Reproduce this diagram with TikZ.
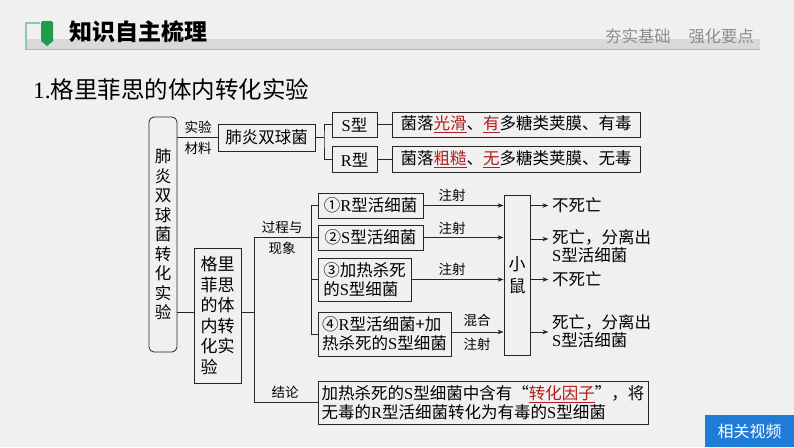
\documentclass[tikz,border=0pt]{standalone}
\usepackage{fontspec}
\setmainfont{Noto Sans CJK SC}
\newfontfamily\lat{Liberation Serif}
\usetikzlibrary{shadows,arrows.meta}
\definecolor{bg}{HTML}{F0F0F0}
\definecolor{dred}{HTML}{B01E1E}
\definecolor{hgreen}{HTML}{1F9D4E}
\definecolor{hline}{HTML}{8CC8A4}
\definecolor{band}{HTML}{D9D9D9}
\definecolor{btn}{HTML}{1E7BD6}
\definecolor{hgray}{HTML}{8C8C8C}
\newcommand{\Sx}{{\lat S}}
\newcommand{\Rx}{{\lat R}}
\newcommand{\rd}[1]{{\color{dred}\underline{#1}}}
\begin{document}
\begin{tikzpicture}[x=1pt,y=-1pt,
  box/.style={draw=black!85, line width=0.8pt, fill=bg, inner sep=0pt,
    drop shadow={shadow xshift=0.9pt, shadow yshift=-0.9pt, fill=black!70, opacity=1}},
  bt/.style={font=\fontsize{16.5}{19}\selectfont},
  lbl/.style={font=\fontsize{13.5}{15}\selectfont, inner sep=0pt},
  conn/.style={line width=0.8pt, draw=black!85},
  arr/.style={conn, -{Stealth[length=6pt,width=4.5pt]}},
  outt/.style={font=\fontsize{16.5}{18}\selectfont, anchor=west, align=left, inner sep=0pt}
]
\useasboundingbox (0,0) rectangle (794,447);
\fill[bg] (0,0) rectangle (794,447);

% header
\fill[band] (26,39) rectangle (760,49);
\draw[hline, line width=1.2pt] (26,49.5) -- (760,49.5);
\draw[hline, line width=1.2pt] (40,23) -- (26,23) -- (26,50);
\fill[hgreen] (41,23) to[out=90,in=180] (43,21) -- (51,21) to[out=0,in=90] (53,23) -- (53,41) -- (47,46) -- (41,41) -- cycle;
\node[anchor=west, inner sep=0pt, font=\fontsize{23}{23}\selectfont\bfseries] (title) at (69,32) {知识自主梳理};
\node[anchor=east, inner sep=0pt, text=hgray, font=\fontsize{16.3}{17}\selectfont] (sub) at (754,36) {夯实基础\hspace{1.1em}强化要点};

\node[anchor=west, inner sep=0pt, font=\fontsize{23.5}{24}\selectfont] (sec) at (33,90) {{\lat 1.}格里菲思的体内转化实验};

% nodes
\node[draw=black!85, line width=0.8pt, rounded corners=5pt, minimum width=28pt, minimum height=235pt, inner sep=0pt, align=center, font=\fontsize{16.5}{19.5}\selectfont] (L) at (163,234.5) {肺\\炎\\双\\球\\菌\\转\\化\\实\\验};
\node[box,bt,minimum width=97pt,minimum height=27pt] (A) at (266.5,137.5) {肺炎双球菌};
\node[box,bt,minimum width=45pt,minimum height=25pt] (S) at (354.5,124.5) {\Sx 型};
\node[box,bt,minimum width=45pt,minimum height=26pt] (R) at (354.5,159.5) {\Rx 型};
\node[box,bt,minimum width=248pt,minimum height=25pt] (SL) at (516,124.5) {菌落\rd{光滑}、\rd{有}多糖类荚膜、有毒};
\node[box,bt,minimum width=248pt,minimum height=26pt] (RL) at (516,159.5) {菌落\rd{粗糙}、\rd{无}多糖类荚膜、无毒};
\node[box,font=\fontsize{17}{20.5}\selectfont,align=left,minimum width=47pt,minimum height=135pt] (G) at (217.5,315.5) {格里\\菲思\\的体\\内转\\化实\\验};
\node[box,bt,minimum width=105pt,minimum height=25pt] (B1) at (370.5,205.5) {①\Rx 型活细菌};
\node[box,bt,minimum width=105pt,minimum height=25pt] (B2) at (370.5,237.5) {②\Sx 型活细菌};
\node[box,bt,align=left,minimum width=93pt,minimum height=43pt] (B3) at (364.5,279.5) {③加热杀死\\的\Sx 型细菌};
\node[box,bt,align=left,minimum width=133pt,minimum height=44pt] (B4) at (384.5,334) {④\Rx 型活细菌+加\\热杀死的\Sx 型细菌};
\node[box,align=center,minimum width=26pt,minimum height=160pt,font=\fontsize{17}{22}\selectfont] (M) at (517,275) {小\\鼠};
\node[box,bt,align=left,minimum width=330pt,minimum height=43pt] (C) at (483,402.5) {加热杀死的\Sx 型细菌中含有“{\color{dred}\underline{转化因子}}”，将\\无毒的\Rx 型活细菌转化为有毒的\Sx 型细菌};

\node[outt] (o1) at (552,205.5) {不死亡};
\node[outt] (o2) at (552,246) {死亡，分离出\\\Sx 型活细菌};
\node[outt] (o3) at (552,279.5) {不死亡};
\node[outt] (o4) at (552,331) {死亡，分离出\\\Sx 型活细菌};

% connectors top
\coordinate (j1) at (324,137.5);
\draw[conn] (L.east |- A.west) -- (A.west);
\node[lbl] (l1) at (198,127) {实验};
\node[lbl] (l2) at (198,148) {材料};
\draw[conn] (A.east) -- (j1);
\draw[conn] (S.west) -| (j1) |- (R.west);
\draw[conn] (S.east) -- (SL.west);
\draw[conn] (R.east) -- (RL.west);

% connectors bottom
\draw[conn] (L.east |- 0,312) -- (G.west |- 0,312);
\coordinate (t1) at (254,237.5);
\draw[conn] (G.east |- 0,312) -- (t1 |- 0,312);
\draw[conn] (t1) |- (C.west);
\draw[conn] (t1) -- (B2.west);
\node[lbl] (l3) at (282,227) {过程与};
\node[lbl] (l4) at (282,248) {现象};
\node[lbl] (l5) at (285,392) {结论};
\coordinate (t3) at (311,0);
\draw[conn] (B1.west) -- (B1.west -| t3) -- (B4.west -| t3) -- (B4.west);
\draw[conn] (B3.west) -- (B3.west -| t3);

% arrows to mouse
\draw[arr] (B1.east) -- (B1.east -| M.west);
\draw[arr] (B2.east) -- (B2.east -| M.west);
\draw[arr] (B3.east) -- (B3.east -| M.west);
\draw[arr] (B4.east |- 0,332) -- (M.west |- 0,332);
\node[lbl] (i1) at (452,195) {注射};
\node[lbl] (i2) at (452,228) {注射};
\node[lbl] (i3) at (452,269) {注射};
\node[lbl] (i4) at (477,320) {混合};
\node[lbl] (i5) at (477,344) {注射};

% arrows out
\draw[arr] (M.east |- o1.west) -- ++(18,0);
\draw[arr] (M.east |- 0,239) -- ++(18,0);
\draw[arr] (M.east |- o3.west) -- ++(18,0);
\draw[arr] (M.east |- 0,332) -- ++(18,0);

% button
\node[fill=btn, text=white, minimum width=89pt, minimum height=32pt, inner sep=0pt, font=\fontsize{16}{16}\selectfont] (btn) at (749.5,431) {相关视频};
\end{tikzpicture}
\end{document}
